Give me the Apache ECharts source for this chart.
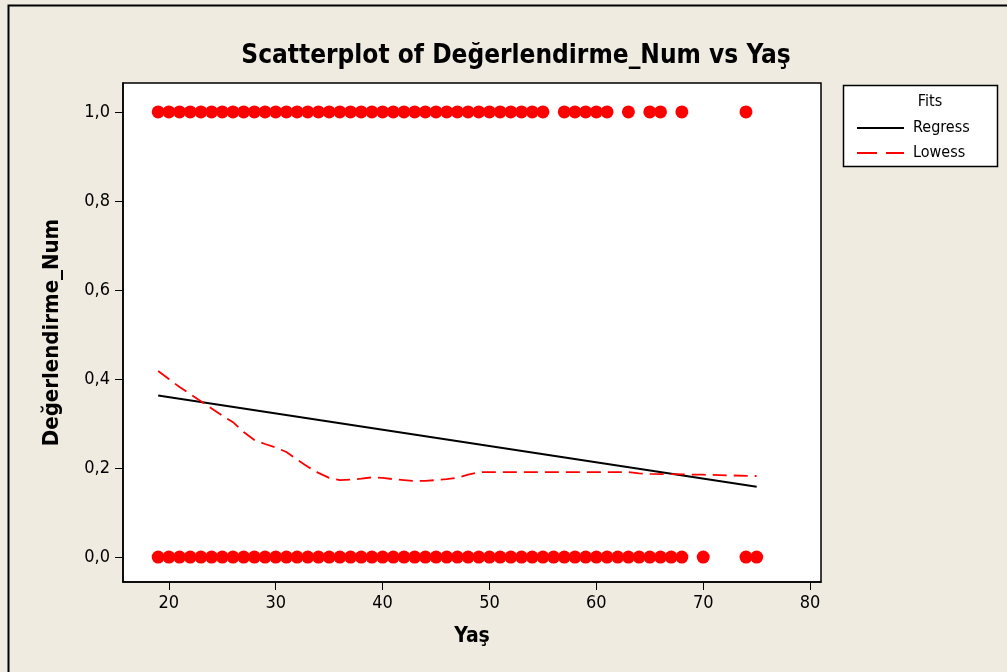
<!DOCTYPE html>
<html>
<head>
<meta charset="utf-8">
<script src="https://cdn.jsdelivr.net/npm/echarts@6/dist/echarts.min.js"></script>
<style>html,body{margin:0;padding:0;background:#EFEBE1;}#c{width:1007px;height:672px;}</style>
</head>
<body>
<div id="c"></div>
<script>
// Observations: Değerlendirme_Num = 1
var agesOne = [19,20,21,22,23,24,25,26,27,28,29,30,31,32,33,34,35,36,37,38,39,40,41,42,43,44,45,46,47,48,49,50,51,52,53,54,55,57,58,59,60,61,63,65,66,68,74];
// Observations: Değerlendirme_Num = 0
var agesZero = [19,20,21,22,23,24,25,26,27,28,29,30,31,32,33,34,35,36,37,38,39,40,41,42,43,44,45,46,47,48,49,50,51,52,53,54,55,56,57,58,59,60,61,62,63,64,65,66,67,68,70,74,75];
// Regression fit
var regAges = [19, 75];
var regFits = [0.363, 0.158];
// Lowess fit
var lowAges = [19,20,21,22,23,24,25,26,27,28,29,30,31,32,33,34,35,36,37,38,39,40,41,42,43,44,45,46,47,48,49,50,55,60,63,64,65,70,75];
var lowFits = [0.418,0.400,0.382,0.366,0.350,0.334,0.318,0.303,0.281,0.263,0.254,0.246,0.236,0.219,0.203,0.189,0.178,0.173,0.174,0.176,0.179,0.178,0.175,0.173,0.171,0.171,0.173,0.175,0.178,0.185,0.191,0.191,0.191,0.191,0.191,0.188,0.187,0.185,0.182];
var xTicks = [20,30,40,50,60,70,80];
var yTicks = [0,0.2,0.4,0.6,0.8,1.0];

var font = '"DejaVu Sans Condensed", "DejaVu Sans", sans-serif';
var pts = [];
agesOne.forEach(function(a){pts.push([a,1]);});
agesZero.forEach(function(a){pts.push([a,0]);});

var chart = echarts.init(document.getElementById('c'));
chart.setOption({
  backgroundColor: '#EFEBE1',
  animation: false,
  title: {
    text: 'Scatterplot of Değerlendirme_Num vs Yaş',
    left: 511, top: 38, textAlign: 'center',
    textStyle: {fontFamily: font, fontWeight: 'bold', fontSize: 26, color: '#000'}
  },
  grid: {left: 123, top: 83, right: 186, bottom: 90, show: true, backgroundColor: '#fff', borderColor: '#000', borderWidth: 1.5},
  xAxis: {
    type: 'value', min: 15.71, max: 81.02,
    name: 'Yaş', nameLocation: 'middle', nameGap: 44,
    nameTextStyle: {fontFamily: font, fontWeight: 'bold', fontSize: 21, color: '#000'},
    axisLine: {show: true, onZero: false, lineStyle: {color: '#000', width: 1.5}},
    axisTick: {show: true, length: 8, customValues: xTicks, lineStyle: {color: '#000'}},
    axisLabel: {customValues: xTicks, margin: 12, fontFamily: font, fontSize: 18, color: '#000'},
    splitLine: {show: false}
  },
  yAxis: {
    type: 'value', min: -0.056, max: 1.065,
    name: 'Değerlendirme_Num', nameLocation: 'middle', nameGap: 60,
    nameTextStyle: {fontFamily: font, fontWeight: 'bold', fontSize: 22, color: '#000'},
    axisLine: {show: true, onZero: false, lineStyle: {color: '#000', width: 1.5}},
    axisTick: {show: true, length: 8, customValues: yTicks, lineStyle: {color: '#000'}},
    axisLabel: {customValues: yTicks, margin: 13, fontFamily: font, fontSize: 18, color: '#000',
      formatter: function(v){return v.toFixed(1).replace('.', ',');}},
    splitLine: {show: false}
  },
  legend: {
    orient: 'vertical', left: 851, top: 115, itemWidth: 47, itemHeight: 12, itemGap: 9,
    z: 20,
    textStyle: {fontFamily: font, fontSize: 16, color: '#000', padding: [0,0,0,4]},
    data: [
      {name: 'Regress', itemStyle: {opacity: 0}, lineStyle: {color: '#000', width: 2}},
      {name: 'Lowess', itemStyle: {opacity: 0}, lineStyle: {color: '#FF0000', width: 2, type: [20,9]}}
    ]
  },
  graphic: [
    {type: 'rect', shape: {x: 8.5, y: 5.5, width: 1100, height: 800}, style: {fill: 'none', stroke: '#000', lineWidth: 2}, silent: true, z: -10},
    {type: 'rect', shape: {x: 843.5, y: 85.5, width: 154, height: 81}, style: {fill: '#fff', stroke: '#000', lineWidth: 1.5}, z: -5},
    {type: 'text', x: 930, y: 102, style: {text: 'Fits', fontFamily: font, fontSize: 16, fill: '#000', textAlign: 'center', textVerticalAlign: 'middle'}, z: 10}
  ],
  series: [
    {name: 'Points', type: 'scatter', data: pts, symbol: 'circle', symbolSize: 13, itemStyle: {color: '#FF0000', opacity: 1}, z: 2},
    {name: 'Regress', type: 'line', data: regAges.map(function(a,i){return [a, regFits[i]];}), showSymbol: false, symbol: 'none',
      lineStyle: {color: '#000', width: 1.8}, itemStyle: {color: '#000'}, z: 3},
    {name: 'Lowess', type: 'line', data: lowAges.map(function(a,i){return [a, lowFits[i]];}), showSymbol: false, symbol: 'none',
      lineStyle: {color: '#FF0000', width: 1.8, type: [14,7]}, itemStyle: {color: '#FF0000'}, z: 3}
  ]
});
</script>
</body>
</html>
